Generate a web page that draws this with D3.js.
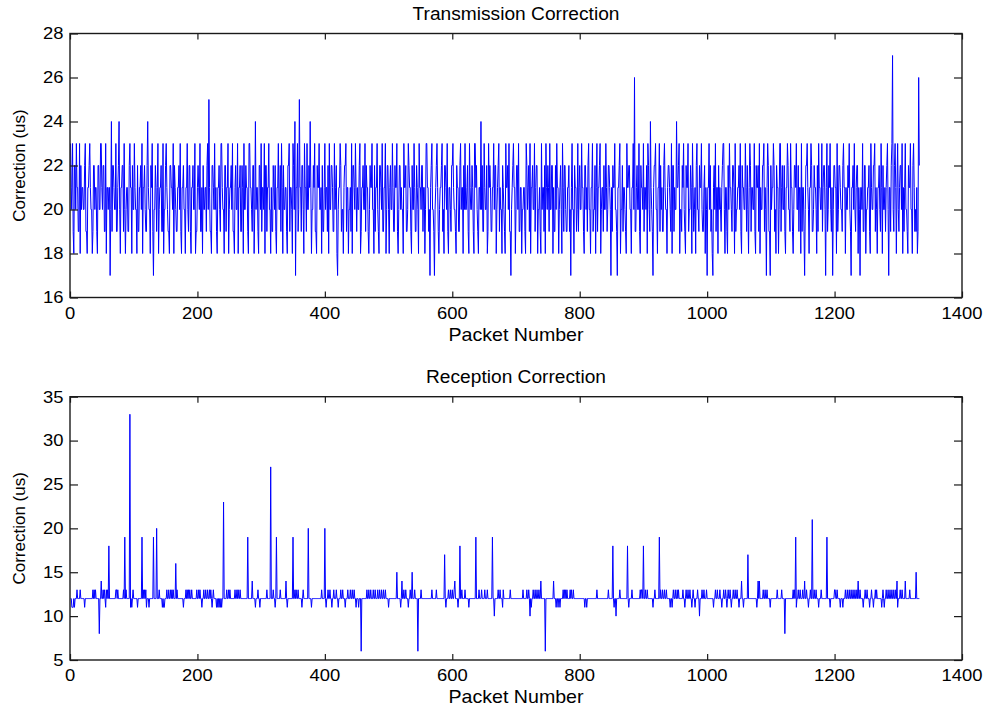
<!DOCTYPE html>
<html>
<head>
<meta charset="utf-8">
<script src="https://cdn.jsdelivr.net/npm/d3@7"></script>
<style>
  html, body { margin: 0; padding: 0; background: #fff; }
  svg { display: block; }
  text { font-family: "Liberation Sans", Arial, Helvetica, sans-serif; fill: #000; }
</style>
</head>
<body>
<svg id="chart" width="990" height="710"></svg>
<script>
// ---------------- DATA ----------------
const xTicks = [0, 200, 400, 600, 800, 1000, 1200, 1400];
const txTicks = [16, 18, 20, 22, 24, 26, 28];
const rxTicks = [5, 10, 15, 20, 25, 30, 35];
const titles = ["Transmission Correction", "Reception Correction"];
const xLabel = "Packet Number";
const yLabel = "Correction (us)";

// Transmission correction per packet (us), one char per packet: value = base36(char) + 17
const transmissionRows = [
"6346215536 4422615344 3356221445 6433125534 4215533664",
"3552261443 4403725543 3622457314 4552631344 2256441533",
"6433152244 5361445322 5743315462 0335424613 4452261335",
"6432215544 3615432244 5362144533 1446325521 4453361224",
"5436224153 3442563842 2155436342 1445326643 3155244613",
"4453622145 3361445225 4163354421 6644325513 7344215536",
"2443615524 4633142254 3521446335 2641533442 1556244316",
"5370446238 4425531644 2633547413 3546221544 6334152246",
"3442516335 5422634510 3446523314 5562441334 2615543642",
"4335612445 3362544213 5446331524 4632155436 2244613553",
"1453364225 4462135534 3316445223 6544215336 4225431644",
"3552441366 4423045633 2034564213 4456231554 3621443255",
"6433215442 2563441536 3345216433 5421664532 1443735226",
"4335126454 2244635513 4562433154 3216445362 2034564413",
"5536224413 3442165345 2614453362 4551334216 3442516435",
"4263355142 2536441345 3164255322 4452304633 1544236245",
"3364421553 4256331446 2335146244 5613442533 6423554304",
"2544633204 4561335244 3216445533 1446392245 3362154436",
"2443516532 7432045563 3144625342 2564331455 4326155243",
"3744561332 5463215446 2335416423 4156332544 6322451430",
"4463523104 5362441534 3245663144 2153644325 5416233445",
"3621544336 4253146524 4336215445 2614335562 4304652205",
"3446523154 4136624533 5214465332 6442135546 3352441624",
"4203556431 4465223544 3152644336 2455304623 5463240355",
"4416235543 3256441433 5463204453 6324551430 4436225513",
"3445216433 5562431445 3264153342 4563044256 a325641463",
"2455361424 6332154463 3156423241 295"
];

// Reception correction per packet (us), one char per packet: value = base36(char) + 5
const receptionRows = [
"7766676777 8777787777 7767777777 7777787878 7777737797",
"7878768787 d777777777 7887877777 77787e7877 777s676787",
"7777767777 77e7878786 7776777777 e7777f7778 7777676677",
"7877877878 78777b7877 7777777677 7878787877 8777777787",
"7878776778 7787787787 8767877776 7676767677 i777787787",
"8777777787 7878778777 77777777e7 7777797777 6777877677",
"7777777787 7777m77787 767e777778 7777777797 677777777e",
"7787877877 7776787777 777f777767 7777777777 777787777f",
"7677877877 6778777877 6777877877 7677787778 7787787767",
"7767771777 7777787787 7877787787 7787787787 7877877776",
"7777777777 77a7777767 9778778777 677877a777 8777717777",
"8777777777 7777777877 7777877777 7777777c76 7778778778",
"7789777767 7d77877778 7777767777 777777e777 7877787777",
"8777877777 77e7757777 7877877768 7777777777 8777777777",
"7777777777 8777778778 7576778778 7787787797 7777717777",
"7777777797 7767767767 7778787878 7777878778 7777777777",
"7777777677 6777777777 7777778777 7777777777 7777877777",
"7d76775777 7787777777 7777d76777 7877777777 777787887d",
"7787787777 7777677877 7777e78778 7787787777 7677678778",
"7787877777 7877678778 7787767877 6777877577 7877877787",
"7777777776 7787787778 7767787787 6787787677 8778778776",
"7779776777 777c777777 7777777679 7977777877 8778777767",
"7777777778 7777778777 7377777777 77778787e6 7787787778",
"7797787767 7877g77877 8777677787 7777777e77 7767777778",
"8778777767 7767778778 7787787787 7877879778 7777677877",
"8777677877 6778787777 7776787677 8778778778 7787787967",
"7787787777 9777777877 7777777a77 777"
];

function decode(rows, base) {
  return rows.join("").replace(/\s/g, "").split("").map((c, i) => ({ packet: i + 1, value: parseInt(c, 36) + base }));
}
const transmission = decode(transmissionRows, 17);
const reception = decode(receptionRows, 5);

// ---------------- LAYOUT ----------------
const svg = d3.select("#chart");
const L = 70, R = 962;
const panels = [
  { top: 33.5, bottom: 297.5, domain: [16, 28], ticks: txTicks, data: transmission, title: titles[0] },
  { top: 396.7, bottom: 660, domain: [5, 35], ticks: rxTicks, data: reception, title: titles[1] }
];
const TICK_SX = 1.15, TITLE_SX = 1.095, LABEL_SX = 1.09;

function txt(g, x, y, s, size, sx, anchor) {
  return g.append("text")
    .attr("transform", `translate(${x},${y}) scale(${sx},1)`)
    .attr("text-anchor", anchor)
    .style("font-size", size + "px")
    .text(s);
}

const x = d3.scaleLinear().domain([0, 1400]).range([L, R]);

panels.forEach((p, k) => {
  const y = d3.scaleLinear().domain(p.domain).range([p.bottom, p.top]);
  const g = svg.append("g");

  const clipId = "clip" + k;
  svg.append("clipPath").attr("id", clipId)
    .append("rect").attr("x", L).attr("y", p.top).attr("width", R - L).attr("height", p.bottom - p.top);

  // data line
  const line = d3.line().x(d => x(d.packet)).y(d => y(d.value));
  g.append("path")
    .datum(p.data)
    .attr("clip-path", `url(#${clipId})`)
    .attr("fill", "none")
    .attr("stroke", "#0000ff")
    .attr("stroke-width", 1)
    .attr("stroke-linejoin", "miter")
    .attr("d", line);

  // axes via d3 axis generators (inward ticks, no labels), then box
  const axStroke = "#1a1a1a";
  const bottomAxis = g.append("g").attr("transform", `translate(0,${p.bottom})`)
    .call(d3.axisBottom(x).tickValues(xTicks).tickSizeInner(-6).tickSizeOuter(0).tickFormat(""));
  const topAxis = g.append("g").attr("transform", `translate(0,${p.top})`)
    .call(d3.axisTop(x).tickValues(xTicks).tickSizeInner(-6).tickSizeOuter(0).tickFormat(""));
  const leftAxis = g.append("g").attr("transform", `translate(${L},0)`)
    .call(d3.axisLeft(y).tickValues(p.ticks).tickSizeInner(-8).tickSizeOuter(0).tickFormat(""));
  const rightAxis = g.append("g").attr("transform", `translate(${R},0)`)
    .call(d3.axisRight(y).tickValues(p.ticks).tickSizeInner(-8).tickSizeOuter(0).tickFormat(""));
  [bottomAxis, topAxis, leftAxis, rightAxis].forEach(a => {
    a.select(".domain").remove();
    a.selectAll("line").attr("stroke", axStroke).attr("stroke-width", 1.2);
  });
  g.append("rect")
    .attr("x", L).attr("y", p.top).attr("width", R - L).attr("height", p.bottom - p.top)
    .attr("fill", "none").attr("stroke", axStroke).attr("stroke-width", 1.4);

  // tick labels
  xTicks.forEach(v => txt(g, x(v), p.bottom + 21, String(v), 16, TICK_SX, "middle"));
  p.ticks.forEach(v => txt(g, L - 6.5, y(v) + 5.8, String(v), 16, TICK_SX, "end"));

  // title and labels
  txt(g, (L + R) / 2, p.top - 14, p.title, 17.5, TITLE_SX, "middle");
  txt(g, (L + R) / 2, p.bottom + 43, xLabel, 18, LABEL_SX, "middle");
  g.append("text")
    .attr("transform", `translate(25,${(p.top + p.bottom) / 2}) rotate(-90)`)
    .attr("text-anchor", "middle")
    .style("font-size", "17px")
    .text(yLabel);
});
</script>
</body>
</html>
